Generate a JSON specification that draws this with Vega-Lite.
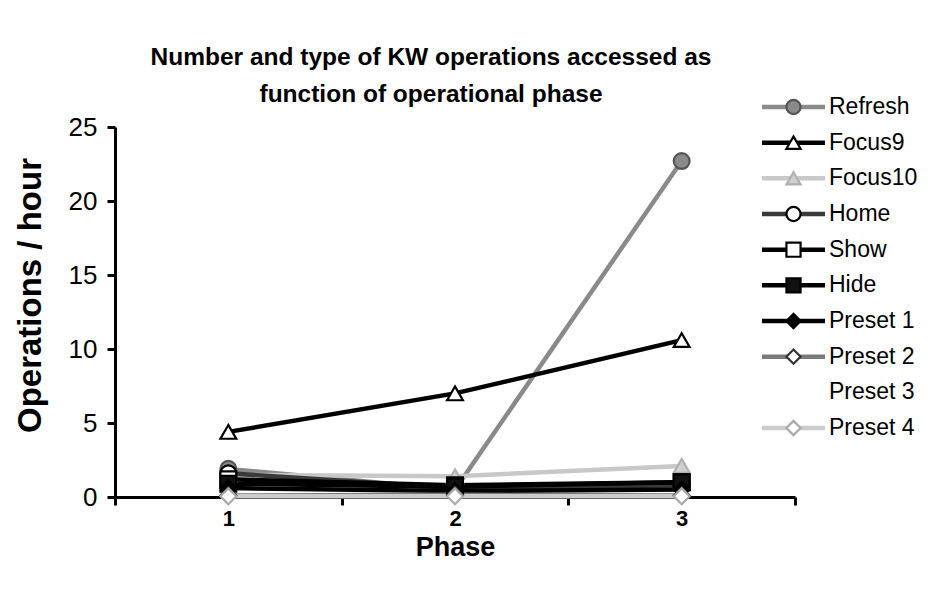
{
  "$schema": "https://vega.github.io/schema/vega-lite/v6.json",
  "width": 680,
  "height": 370,
  "autosize": {"type": "none"},
  "padding": {"left": 115, "top": 127, "right": 137, "bottom": 98},
  "background": "white",
  "config": {"font": "Liberation Sans", "view": {"stroke": null}},
  "title": {
    "text": ["Number and type of KW operations accessed as", "function of operational phase"],
    "fontSize": 24.5,
    "fontWeight": "bold",
    "lineHeight": 37,
    "anchor": "middle",
    "offset": -12,
    "dx": -24,
    "color": "black"
  },
  "datasets": {
    "main": [
      {"series": "Refresh", "phase": 1, "value": 1.9},
      {"series": "Refresh", "phase": 2, "value": 0.5},
      {"series": "Refresh", "phase": 3, "value": 22.7},
      {"series": "Focus9", "phase": 1, "value": 4.4},
      {"series": "Focus9", "phase": 2, "value": 7.0},
      {"series": "Focus9", "phase": 3, "value": 10.6},
      {"series": "Focus10", "phase": 1, "value": 1.5},
      {"series": "Focus10", "phase": 2, "value": 1.4},
      {"series": "Focus10", "phase": 3, "value": 2.1},
      {"series": "Home", "phase": 1, "value": 1.6},
      {"series": "Home", "phase": 2, "value": 0.6},
      {"series": "Home", "phase": 3, "value": 0.8},
      {"series": "Show", "phase": 1, "value": 1.2},
      {"series": "Show", "phase": 2, "value": 0.8},
      {"series": "Show", "phase": 3, "value": 1.0},
      {"series": "Hide", "phase": 1, "value": 0.9},
      {"series": "Hide", "phase": 2, "value": 0.7},
      {"series": "Hide", "phase": 3, "value": 1.0},
      {"series": "Preset 1", "phase": 1, "value": 0.6},
      {"series": "Preset 1", "phase": 2, "value": 0.4},
      {"series": "Preset 1", "phase": 3, "value": 0.5},
      {"series": "Preset 2", "phase": 1, "value": 0.1},
      {"series": "Preset 2", "phase": 2, "value": 0.15},
      {"series": "Preset 2", "phase": 3, "value": 0.1},
      {"series": "Preset 3", "phase": 1, "value": 0},
      {"series": "Preset 3", "phase": 2, "value": 0},
      {"series": "Preset 3", "phase": 3, "value": 0},
      {"series": "Preset 4", "phase": 1, "value": 0.05},
      {"series": "Preset 4", "phase": 2, "value": 0.05},
      {"series": "Preset 4", "phase": 3, "value": 0.05}
    ]
  },
  "layer": [
    {
      "data": {"name": "main"},
      "transform": [{"filter": "datum.series != 'Preset 3'"}],
      "encoding": {
        "x": {
          "field": "phase",
          "type": "ordinal",
          "scale": {"type": "band", "paddingInner": 0, "paddingOuter": 0},
          "axis": {
            "labelAngle": 0,
            "tickBand": "extent",
            "domainWidth": 3,
            "domainColor": "black",
            "tickWidth": 3,
            "tickSize": 8,
            "tickColor": "black",
            "labelFontSize": 22,
            "labelFontWeight": "bold",
            "labelColor": "black",
            "labelPadding": 3,
            "title": "Phase",
            "titleFontSize": 27,
            "titleFontWeight": "bold",
            "titleColor": "black",
            "titlePadding": 5
          }
        },
        "y": {
          "field": "value",
          "type": "quantitative",
          "scale": {"domain": [0, 25]},
          "axis": {
            "values": [0, 5, 10, 15, 20, 25],
            "grid": false,
            "domainWidth": 3,
            "domainColor": "black",
            "tickWidth": 3,
            "tickSize": 8,
            "tickColor": "black",
            "labelFontSize": 26,
            "labelColor": "black",
            "labelPadding": 10,
            "title": "Operations / hour",
            "titleFontSize": 33,
            "titleFontWeight": "bold",
            "titleColor": "black",
            "titleX": -68,
            "titleY": 168
          }
        }
      },
      "layer": [
        {
          "mark": {"type": "line", "strokeWidth": 4.5},
          "encoding": {
            "color": {
              "field": "series",
              "type": "nominal",
              "scale": {
                "domain": ["Refresh", "Focus9", "Focus10", "Home", "Show", "Hide", "Preset 1", "Preset 2", "Preset 3", "Preset 4"],
                "range": ["#8a8a8a", "#000000", "#c8c8c8", "#3a3a3a", "#000000", "#000000", "#000000", "#7a7a7a", "#ffffff", "#cccccc"]
              },
              "legend": null
            }
          }
        },
        {
          "mark": {"type": "point", "size": 250, "strokeWidth": 2.2, "opacity": 1, "fillOpacity": 1},
          "encoding": {
            "shape": {
              "field": "series",
              "type": "nominal",
              "scale": {
                "domain": ["Refresh", "Focus9", "Focus10", "Home", "Show", "Hide", "Preset 1", "Preset 2", "Preset 3", "Preset 4"],
                "range": ["circle", "triangle-up", "triangle-up", "circle", "square", "square", "diamond", "diamond", "circle", "diamond"]
              },
              "legend": null
            },
            "fill": {
              "field": "series",
              "type": "nominal",
              "scale": {
                "domain": ["Refresh", "Focus9", "Focus10", "Home", "Show", "Hide", "Preset 1", "Preset 2", "Preset 3", "Preset 4"],
                "range": ["#8a8a8a", "#ffffff", "#cfcfcf", "#ffffff", "#ffffff", "#111111", "#000000", "#ffffff", "#ffffff", "#ffffff"]
              },
              "legend": null
            },
            "stroke": {
              "field": "series",
              "type": "nominal",
              "scale": {
                "domain": ["Refresh", "Focus9", "Focus10", "Home", "Show", "Hide", "Preset 1", "Preset 2", "Preset 3", "Preset 4"],
                "range": ["#555555", "#000000", "#b0b0b0", "#000000", "#000000", "#000000", "#000000", "#333333", "#ffffff", "#aaaaaa"]
              },
              "legend": null
            }
          }
        }
      ]
    },
    {
      "data": {"name": "main"},
      "transform": [{"filter": "datum.phase == 1"}],
      "encoding": {
        "y": {
          "field": "series",
          "type": "nominal",
          "scale": {
            "type": "point",
            "domain": ["Refresh", "Focus9", "Focus10", "Home", "Show", "Hide", "Preset 1", "Preset 2", "Preset 3", "Preset 4"],
            "range": [-20, 301],
            "padding": 0
          },
          "axis": null
        }
      },
      "layer": [
        {
          "transform": [{"filter": "datum.series != 'Preset 3'"}],
          "mark": {"type": "rule", "strokeWidth": 4.5},
          "encoding": {
            "x": {"datum": 0, "type": "quantitative", "scale": {"domain": [0, 1], "range": [647, 710]}, "axis": null},
            "x2": {"datum": 1},
            "color": {"field": "series", "type": "nominal", "legend": null}
          }
        },
        {
          "transform": [{"filter": "datum.series != 'Preset 3'"}],
          "mark": {"type": "point", "size": 200, "strokeWidth": 2.2, "opacity": 1, "fillOpacity": 1},
          "encoding": {
            "x": {"datum": 0.5, "type": "quantitative"},
            "shape": {"field": "series", "type": "nominal", "legend": null},
            "fill": {"field": "series", "type": "nominal", "legend": null},
            "stroke": {"field": "series", "type": "nominal", "legend": null}
          }
        },
        {
          "mark": {"type": "text", "align": "left", "baseline": "middle", "dx": 4, "fontSize": 23, "color": "black"},
          "encoding": {
            "x": {"datum": 1, "type": "quantitative"},
            "text": {"field": "series", "type": "nominal"}
          }
        }
      ]
    }
  ],
  "resolve": {"scale": {"x": "independent", "y": "independent"}}
}
